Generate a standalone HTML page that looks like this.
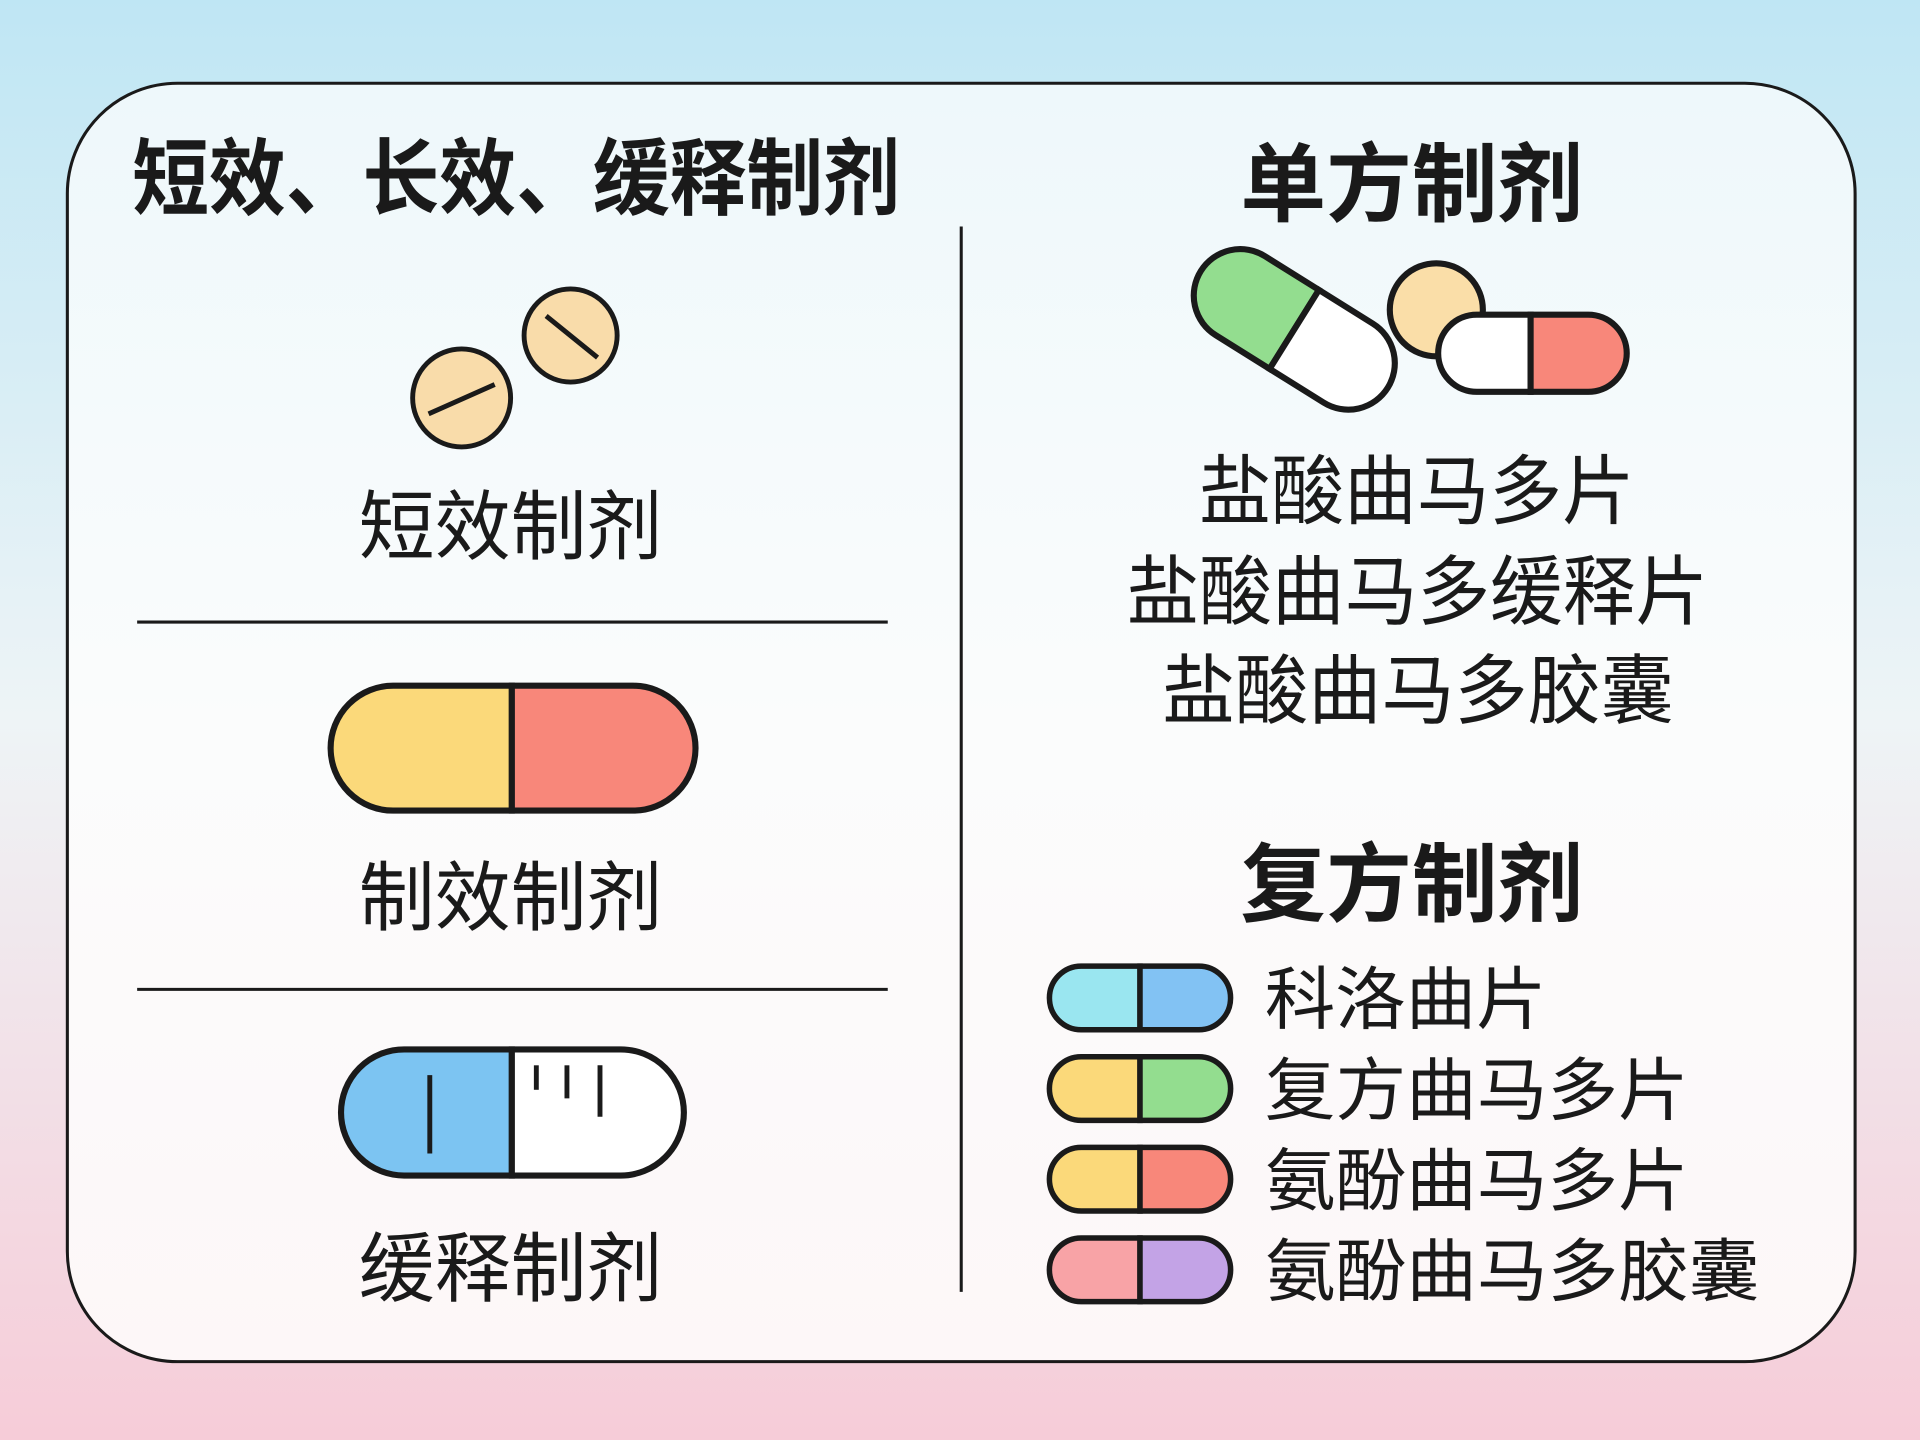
<!DOCTYPE html>
<html><head><meta charset="utf-8"><style>
html,body{margin:0;padding:0;width:1920px;height:1440px;overflow:hidden}
svg{display:block}
text{font-family:"Liberation Sans","Noto Sans CJK SC",sans-serif;fill:#1a1a1a}
.b{font-weight:bold}
</style></head><body>
<svg width="1920" height="1440" viewBox="0 0 1568 1176" preserveAspectRatio="none" xmlns="http://www.w3.org/2000/svg">
<defs>
<linearGradient id="bg" x1="0" y1="0" x2="0" y2="1">
<stop offset="0" stop-color="#bfe6f4"/><stop offset="0.5" stop-color="#eef4f6"/><stop offset="1" stop-color="#f6ccd8"/>
</linearGradient>
<linearGradient id="card" x1="0" y1="0" x2="0" y2="1">
<stop offset="0" stop-color="#eef8fb"/><stop offset="0.5" stop-color="#fbfcfc"/><stop offset="1" stop-color="#fdf7f8"/>
</linearGradient>
</defs>
<rect width="1568" height="1176" fill="url(#bg)"/>
<rect x="55" y="68" width="1460" height="1044" rx="90" fill="url(#card)" stroke="#1a1a1a" stroke-width="2.5"/>
<g stroke="#1a1a1a" stroke-width="2.5">
<line x1="785" y1="185" x2="785" y2="1055"/>
<line x1="112" y1="508" x2="725" y2="508"/>
<line x1="112" y1="808" x2="725" y2="808"/>
</g>
<text x="108" y="170" font-size="68" class="b" textLength="627" lengthAdjust="spacingAndGlyphs">短效、长效、缓释制剂</text>
<text x="1153" y="175" font-size="70" class="b" text-anchor="middle">单方制剂</text>
<text x="1153" y="747" font-size="70" class="b" text-anchor="middle">复方制剂</text>
<!-- tablets -->
<g stroke="#1a1a1a" stroke-width="4" fill="#f9dcaa">
<circle cx="377" cy="325" r="40"/><line x1="350" y1="338" x2="404" y2="314"/>
<circle cx="466" cy="274" r="38"/><line x1="446" y1="258" x2="488" y2="292"/>
</g>
<text x="417" y="452" font-size="62" text-anchor="middle">短效制剂</text>
<!-- yellow/red capsule -->
<g stroke="#1a1a1a" stroke-width="5">
<path d="M418 560 H321 A51 51 0 0 0 321 662 H418 Z" fill="#fbd97a"/>
<path d="M418 560 H517 A51 51 0 0 1 517 662 H418 Z" fill="#f8877a"/>
</g>
<text x="417" y="755" font-size="62" text-anchor="middle">制效制剂</text>
<!-- blue/white capsule -->
<g stroke="#1a1a1a" stroke-width="5">
<path d="M418 857 H330 A51 51 0 0 0 330 960 H418 Z" fill="#7cc4f2"/>
<path d="M418 857 H507 A51 51 0 0 1 507 960 H418 Z" fill="#fff"/>
<line x1="351" y1="878" x2="351" y2="942" stroke-width="4"/>
<line x1="438" y1="870" x2="438" y2="890" stroke-width="4"/>
<line x1="463" y1="870" x2="463" y2="897" stroke-width="4"/>
<line x1="490" y1="870" x2="490" y2="912" stroke-width="4"/>
</g>
<text x="417" y="1058" font-size="62" text-anchor="middle">缓释制剂</text>
<!-- right top pills -->
<g stroke="#1a1a1a" stroke-width="5">
<g transform="translate(1057 269) rotate(32)">
<path d="M0 -38 H-52 A38 38 0 0 0 -52 38 H0 Z" fill="#93dd8f"/>
<path d="M0 -38 H52 A38 38 0 0 1 52 38 H0 Z" fill="#fff"/>
</g>
<circle cx="1173" cy="253" r="38" fill="#fadea8"/>
<path d="M1250 257 H1206 A31.5 31.5 0 0 0 1206 320 H1250 Z" fill="#fff"/>
<path d="M1250 257 H1297 A31.5 31.5 0 0 1 1297 320 H1250 Z" fill="#f8877a"/>
</g>
<g font-size="62">
<text x="979" y="423" textLength="356" lengthAdjust="spacingAndGlyphs">盐酸曲马多片</text>
<text x="920" y="505" textLength="475" lengthAdjust="spacingAndGlyphs">盐酸曲马多缓释片</text>
<text x="949" y="586" textLength="418" lengthAdjust="spacingAndGlyphs">盐酸曲马多胶囊</text>
</g>
<!-- compound capsules -->
<g stroke="#1a1a1a" stroke-width="4.5">
<path d="M931 789 H883 A26 26 0 0 0 883 841 H931 Z" fill="#9ae6f0"/>
<path d="M931 789 H979 A26 26 0 0 1 979 841 H931 Z" fill="#82c2f3"/>
<path d="M931 863 H883 A26 26 0 0 0 883 915 H931 Z" fill="#fbd97a"/>
<path d="M931 863 H979 A26 26 0 0 1 979 915 H931 Z" fill="#93dd8f"/>
<path d="M931 937 H883 A26 26 0 0 0 883 989 H931 Z" fill="#fbd97a"/>
<path d="M931 937 H979 A26 26 0 0 1 979 989 H931 Z" fill="#f8877a"/>
<path d="M931 1011 H883 A26 26 0 0 0 883 1063 H931 Z" fill="#f8a3a6"/>
<path d="M931 1011 H979 A26 26 0 0 1 979 1063 H931 Z" fill="#c3a3e6"/>
</g>
<g font-size="56">
<text x="1033" y="836" textLength="230" lengthAdjust="spacingAndGlyphs">科洛曲片</text>
<text x="1033" y="910" textLength="346" lengthAdjust="spacingAndGlyphs">复方曲马多片</text>
<text x="1033" y="984" textLength="346" lengthAdjust="spacingAndGlyphs">氨酚曲马多片</text>
<text x="1033" y="1058" textLength="404" lengthAdjust="spacingAndGlyphs">氨酚曲马多胶囊</text>
</g>
</svg>
</body></html>
